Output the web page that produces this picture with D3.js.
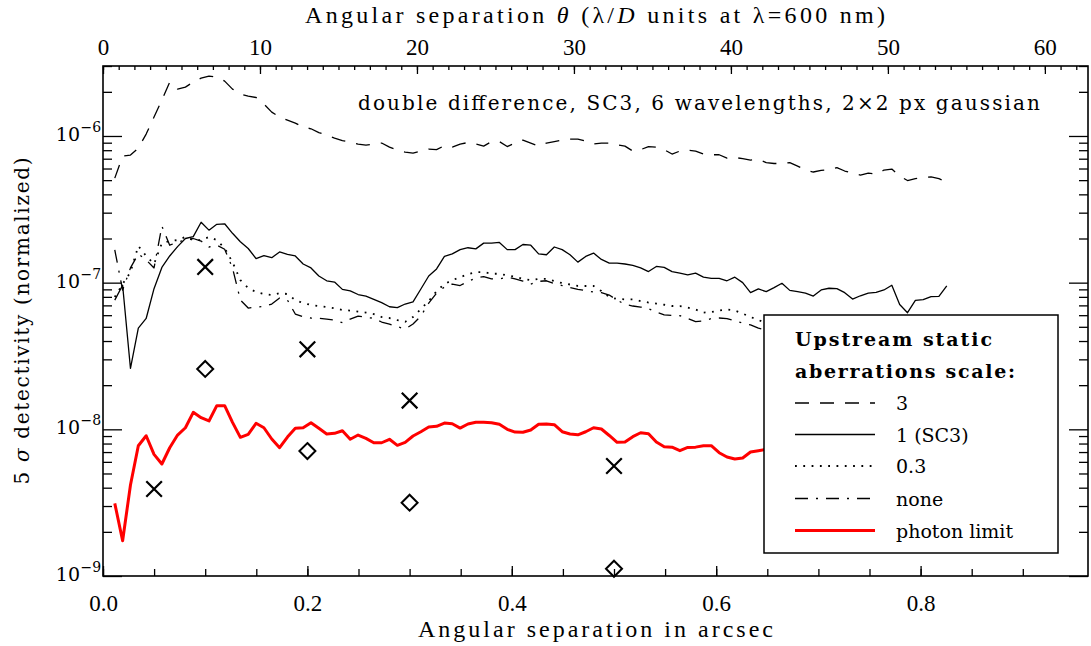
<!DOCTYPE html>
<html lang="en">
<head>
<meta charset="utf-8" />
<title>5σ detectivity vs angular separation</title>
<style>
  body{margin:0;background:#fff;}
  svg{display:block;font-family:"DejaVu Serif","Bitstream Vera Serif",Georgia,serif;}
  .axis path.domain{display:none}
  .axis line{stroke:#000;stroke-width:1.3}
  .axis text{font-family:"Liberation Serif","Times New Roman",Times,serif;font-size:23px;fill:#000}
  .hershey{font-family:"Liberation Serif","Times New Roman",Times,serif}
</style>
<script src="https://cdn.jsdelivr.net/npm/d3@7.9.0/dist/d3.min.js"></script>
</head>
<body>
<svg id="chart" width="1091" height="646"></svg>
<script>
/* ───────── DATA (detectivities in units of 1e-9) ───────── */
const LOD_ARCSEC = 0.01536;        // λ/D at 600 nm, arcsec
const NANO = 1e-9;

// sampling grid, λ/D
const sepLod = [0.75,1.25,1.75,2.25,2.75,3.25,3.75,4.25,4.75,5.25,
  5.75,6.25,6.75,7.25,7.75,8.25,8.75,9.25,9.75,10.25,
  10.75,11.25,11.75,12.25,12.75,13.25,13.75,14.25,14.75,15.25,
  15.75,16.25,16.75,17.25,17.75,18.25,18.75,19.25,19.75,20.25,
  20.75,21.25,21.75,22.25,22.75,23.25,23.75,24.25,24.75,25.25,
  25.75,26.25,26.75,27.25,27.75,28.25,28.75,29.25,29.75,30.25,
  30.75,31.25,31.75,32.25,32.75,33.25,33.75,34.25,34.75,35.25,
  35.75,36.25,36.75,37.25,37.75,38.25,38.75,39.25,39.75,40.25,
  40.75,41.25,41.75,42.25,42.75,43.25,43.75,44.25,44.75,45.25,
  45.75,46.25,46.75,47.25,47.75,48.25,48.75,49.25,49.75,50.25,
  50.75,51.25,51.75,52.25,52.75,53.25,53.75];

const scale3 = [516,729,741,827,1030,1345,1756,2330,2088,2154,
  2330,2481,2561,2520,2367,2088,1931,1871,1830,1650,
  1455,1345,1284,1225,1150,1120,1055,1014,967,930,
  908,881,867,881,895,840,801,777,765,789,
  814,807,860,840,881,902,881,853,916,916,
  847,895,938,895,853,895,916,938,953,953,
  923,881,895,895,870,853,789,807,847,840,
  807,753,789,801,789,753,745,745,707,714,
  700,685,692,659,649,649,659,623,586,568,
  582,590,609,577,559,541,559,549,586,595,
  533,497,512,520,526,512,485];

const scale1 = [76,96,26,49,57,91,127,152,176,200,
  206,258,228,250,252,217,190,171,146,153,
  148,162,156,152,134,126,111,103,101,90,
  88,83,81,77,73,68.5,67.5,71.5,74,90.5,
  111,124,151,157,168,173,170,186,186,188,
  168,168,182,180,157,155,175,168,155,138,
  151,159,144,136,136,134,131,126,119,129,
  127,119,116,113,116,109,107,107,103,109,
  100,85.5,90.6,86.8,92.4,99,88.6,86.8,84.9,81,
  89.2,91.6,91,85.5,77.3,81.4,84.9,85.9,89.2,96,
  70.9,62.4,75.6,76.5,80.2,80.5,95];

const scale03 = [79.8,97.8,118,178,152,134,186,192,195,205,
  195,195,205,195,172,138,104,91.9,86.3,83.6,
  82.3,84.9,83.6,76.1,72.6,70.5,69.3,68.2,66.8,65.1,
  64.5,63.5,62.5,61.1,58.3,57.4,55.6,54.1,58.3,66.1,
  74.9,87.6,97.8,104,109,114,118,118,115,115,
  112,110,106,104,106,106,102.5,99.3,97.1,94.9,
  94.9,94.9,87.6,79.8,77.3,77,77,74.9,73.2,72,
  70.7,69.3,69.3,67.6,65.6,62.5,63,64.5,65.6,64.5,
  61.6,58.3,55.6,53];

const scaleNone = [167,89,126,157,143,126,243,180,189,195,
  200,192,175,180,169,126,76.1,67.1,68.2,68.7,
  71.5,78.5,76.1,61.1,58.5,57.4,57.2,56.5,55.6,53.3,
  56.5,59.2,58,57.2,53.9,52.2,50.1,48.3,52.2,59.2,
  72.6,84.9,93.3,97.8,95.6,102,107.5,110,106,106,
  109,106,102.5,97.8,102,103,98.5,95.6,92.5,90,
  88.3,86.3,85.6,82.3,76.1,71,69.3,68.2,66.5,63,
  60.3,59.7,59.5,56.9,54.3,54.8,56.9,57.4,56.9,54.8,
  53,51.5,49,47.5];

const photonLimit = [3.13,1.74,4.17,7.73,9.04,6.75,5.80,7.49,9.14,10.25,
  13.06,12.0,11.4,14.5,14.5,11.16,8.82,9.25,10.99,10.25,
  8.59,7.49,8.86,10.16,10.25,11.09,10.16,9.29,9.39,9.78,
  8.55,9.14,8.68,8.10,8.10,8.55,7.78,8.15,9.0,9.63,
  10.37,10.48,11.04,10.92,10.2,10.87,11.16,11.16,11.1,10.82,
  10.0,9.58,9.55,9.9,10.82,10.87,10.75,9.63,9.29,9.18,
  9.63,10.25,10.05,9.08,8.15,8.19,8.91,9.48,9.34,8.19,
  7.61,7.56,7.15,7.52,7.56,7.73,7.73,6.93,6.47,6.27,
  6.37,7.0,7.15,7.3];

// analytic estimates (arcsec, 1e-9)
const crossSep = [0.05,0.1,0.2,0.3,0.5];
const crossVal = [3.92,128,35.1,15.7,5.62];
const diamondSep = [0.1,0.2,0.3,0.5];
const diamondVal = [25.8,7.11,3.16,1.12];

const legendLabels = ['3','1 (SC3)','0.3','none','photon limit'];

/* ───────── LAYOUT ───────── */
const M = {left:103, right:1088, top:66, bottom:576};
const X_MAX = 0.9638;

const svg = d3.select('#chart');
const x = d3.scaleLinear([0, X_MAX], [M.left, M.right]);
const xTop = d3.scaleLinear([0, X_MAX / LOD_ARCSEC], [M.left, M.right]);
const y = d3.scaleLog([1e-9, 3e-6], [M.bottom, M.top]);

/* ───────── AXES ───────── */
const bottomG = svg.append('g').attr('class','axis').attr('transform',`translate(0,${M.bottom})`);
bottomG.call(d3.axisBottom(x).tickValues(d3.range(0,0.95,0.05)).tickSize(-7).tickFormat(''));
bottomG.append('g').call(d3.axisBottom(x).tickValues([0,0.2,0.4,0.6,0.8])
  .tickSize(-10).tickPadding(19).tickFormat(d3.format('.1f')));

const topG = svg.append('g').attr('class','axis').attr('transform',`translate(0,${M.top})`);
topG.call(d3.axisTop(xTop).tickValues(d3.range(0,63,1)).tickSize(-4).tickFormat(''));
topG.append('g').call(d3.axisTop(xTop).tickValues([0,10,20,30,40,50,60])
  .tickSize(-8).tickPadding(11).tickFormat(d3.format('d')));

// d3 puts font-family="sans-serif" on axis groups; drop it so the serif CSS wins
svg.selectAll('.axis, .axis g').attr('font-family',null).attr('font-size',null);

const minorY = [];
for (let p=-9; p<=-6; p++) for (let k=2; k<=9; k++){
  const v = k*Math.pow(10,p); if (v <= 3e-6) minorY.push(v);
}
const majorY = [1e-9,1e-8,1e-7,1e-6];

[['left',M.left,d3.axisLeft],['right',M.right,d3.axisRight]].forEach(([side,pos,ax])=>{
  const g = svg.append('g').attr('class','axis').attr('transform',`translate(${pos},0)`);
  g.call(ax(y).tickValues(minorY).tickSize(-9).tickFormat(''));
  g.append('g').call(ax(y).tickValues(majorY).tickSize(-19).tickFormat(''));
});

// decade labels 10^n
majorY.forEach(v=>{
  const p = Math.round(Math.log10(v));
  const yy = y(v);
  svg.append('text').attr('x',80).attr('y',yy+5).attr('text-anchor','end')
     .attr('font-size',19).text('10');
  svg.append('text').attr('x',80.5).attr('y',yy-4).attr('font-size',14)
     .text('\u2212'+Math.abs(p));
});

/* ───────── TITLES ───────── */
const topTitle = svg.append('text').attr('class','hershey').attr('x',305).attr('y',23)
  .attr('font-size',24)
  .attr('textLength',580).attr('lengthAdjust','spacing');
topTitle.append('tspan').text('Angular separation ');
topTitle.append('tspan').attr('font-style','italic').text('θ');
topTitle.append('tspan').text(' (λ/');
topTitle.append('tspan').attr('font-style','italic').text('D');
topTitle.append('tspan').text(' units at λ=600 nm)');

svg.append('text').attr('class','hershey').attr('x',418).attr('y',637)
  .attr('font-size',24)
  .attr('textLength',355).attr('lengthAdjust','spacing')
  .text('Angular separation in arcsec');

const yTitle = svg.append('text')
  .attr('transform',`translate(29,${(M.top+M.bottom)/2}) rotate(-90)`)
  .attr('text-anchor','middle').attr('font-size',20)
  .attr('textLength',327).attr('lengthAdjust','spacing');
yTitle.append('tspan').text('5 ');
yTitle.append('tspan').attr('font-style','italic').text('σ');
yTitle.append('tspan').text(' detectivity (normalized)');

svg.append('text').attr('x',358).attr('y',110).attr('font-size',20)
  .attr('textLength',682).attr('lengthAdjust','spacing')
  .text('double difference, SC3, 6 wavelengths, 2×2 px gaussian');

/* ───────── CURVES ───────── */
const series = [
  {vals:scale3,      color:'#000', w:1.3, dash:'14,11'},
  {vals:scale1,      color:'#000', w:1.3, dash:null},
  {vals:scale03,     color:'#000', w:1.8, dash:'1.8,6.5'},
  {vals:scaleNone,   color:'#000', w:1.3, dash:'13,8,2,8'},
  {vals:photonLimit, color:'#ff0000', w:3, dash:null}
];

const line = d3.line()
  .x((d,i)=>x(sepLod[i]*LOD_ARCSEC))
  .y(d=>y(d*NANO));

svg.append('g').selectAll('path').data(series).join('path')
  .attr('d',d=>line(d.vals))
  .attr('fill','none')
  .attr('stroke',d=>d.color)
  .attr('stroke-width',d=>d.w)
  .attr('stroke-dasharray',d=>d.dash)
  .attr('stroke-linejoin','round');

/* markers */
svg.append('g').selectAll('path').data(crossSep).join('path')
  .attr('transform',(d,i)=>`translate(${x(d)},${y(crossVal[i]*NANO)})`)
  .attr('d','M-7.8,-7.8L7.8,7.8M-7.8,7.8L7.8,-7.8')
  .attr('stroke','#000').attr('stroke-width',2.2).attr('fill','none');

svg.append('g').selectAll('path').data(diamondSep).join('path')
  .attr('transform',(d,i)=>`translate(${x(d)},${y(diamondVal[i]*NANO)})`)
  .attr('d','M0,-8L8,0L0,8L-8,0Z')
  .attr('stroke','#000').attr('stroke-width',2).attr('fill','none');

/* ───────── LEGEND ───────── */
const lg = svg.append('g');
lg.append('rect').attr('x',764).attr('y',315).attr('width',294).attr('height',238)
  .attr('fill','#fff').attr('stroke','#000').attr('stroke-width',1.5);
lg.append('text').attr('x',795).attr('y',346).attr('font-size',19).attr('font-weight','bold')
  .attr('textLength',197).attr('lengthAdjust','spacing').text('Upstream static');
lg.append('text').attr('x',795).attr('y',378).attr('font-size',19).attr('font-weight','bold')
  .attr('textLength',220).attr('lengthAdjust','spacing').text('aberrations scale:');

const itemY = [403,434.5,466,498.5,530.5];
series.forEach((s,i)=>{
  lg.append('line').attr('x1',795).attr('x2',875)
    .attr('y1',itemY[i]).attr('y2',itemY[i])
    .attr('stroke',s.color).attr('stroke-width',s.w)
    .attr('stroke-dasharray',s.dash);
  lg.append('text').attr('x',896).attr('y',itemY[i]+7).attr('font-size',19)
    .text(legendLabels[i]);
});

/* frame */
svg.append('rect').attr('x',M.left).attr('y',M.top)
  .attr('width',M.right-M.left).attr('height',M.bottom-M.top)
  .attr('fill','none').attr('stroke','#000').attr('stroke-width',1.6);
</script>
</body>
</html>
